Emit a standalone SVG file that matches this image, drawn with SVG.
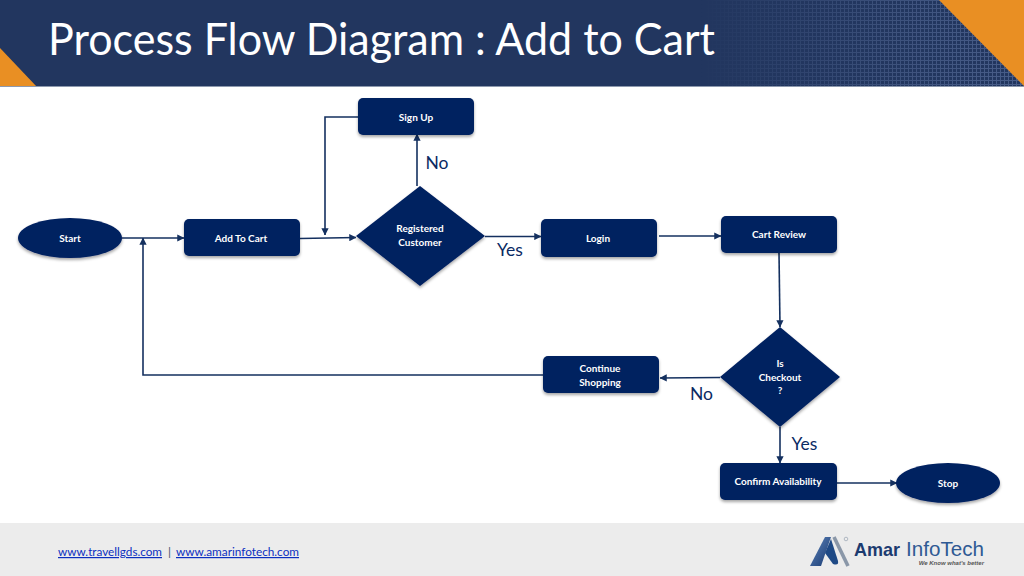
<svg xmlns="http://www.w3.org/2000/svg" width="1024" height="576" viewBox="0 0 1024 576">
<style>
.n{fill:#002060;filter:url(#sh)}
.t{font-family:Lato,"Liberation Sans",sans-serif;font-size:10px;font-weight:700;fill:#fff;text-anchor:middle}
.l{font-family:Lato,"Liberation Sans",sans-serif;font-size:17.500px;fill:#0a2a63}
.c{fill:none;stroke:#14305f;stroke-width:1.6;marker-end:url(#a)}
.f{font-family:Lato,"Liberation Sans",sans-serif;font-size:12px;fill:#0b2fc0;text-decoration:underline}
</style>
<defs>
<marker id="a" viewBox="0 0 8 8" refX="7.5" refY="4" markerWidth="4.5" markerHeight="4.5" orient="auto"><path d="M0 0L8 4L0 8z" fill="#14305f"/></marker>
<filter id="sh" x="-10%" y="-15%" width="120%" height="135%"><feDropShadow dx="0" dy="2" stdDeviation="1.6" flood-color="#000" flood-opacity=".35"/></filter>
<pattern id="g" width="4" height="4" patternUnits="userSpaceOnUse"><path d="M0 .5H4M.5 0V4" stroke="#6f86b4" stroke-width="1" opacity=".5"/></pattern>
<linearGradient id="fade" x1="0" x2="1" y1="0" y2="0"><stop offset="0" stop-color="#fff" stop-opacity="0"/><stop offset=".6" stop-color="#fff" stop-opacity=".7"/><stop offset="1" stop-color="#fff"/></linearGradient>
<mask id="m"><rect x="700" y="0" width="324" height="87" fill="url(#fade)"/></mask>
<linearGradient id="lg" x1="0" x2="1" y1="0" y2="1"><stop offset="0" stop-color="#5f86bd"/><stop offset="1" stop-color="#17386f"/></linearGradient>
</defs>
<rect width="1024" height="576" fill="#fff"/>
<g id="header">
<rect width="1024" height="87" fill="#22365f"/>
<rect x="700" width="324" height="87" fill="url(#g)" mask="url(#m)"/>
<path d="M0 48L37 87H0z" fill="#e98f23"/>
<path d="M939 0H1024V86z" fill="#e98f23"/>
<rect y="86" width="1024" height="1" fill="#8d99ae"/>
<text x="48" y="55" font-family="Lato,'Liberation Sans',sans-serif" font-size="44" fill="#fff" textLength="667" lengthAdjust="spacingAndGlyphs">Process Flow Diagram : Add to Cart</text>
</g>
<g id="footer">
<rect y="523" width="1024" height="53" fill="#ececec"/>
<text class="f" x="58" y="556" textLength="104" lengthAdjust="spacingAndGlyphs">www.travellgds.com</text>
<text x="168" y="556" font-family="Lato,sans-serif" font-size="12" fill="#44546a">|</text>
<text class="f" x="176" y="556" textLength="123" lengthAdjust="spacingAndGlyphs">www.amarinfotech.com</text>
</g>
<g id="logo">
<path d="M810 566L825 537L831 537L821 566z" fill="url(#lg)"/>
<path d="M825 553L831 539L838 561Q839 566 833 564z" fill="#1f4a86"/>
<path d="M834 537L848 566" fill="none" stroke="#8a97a8" stroke-width="3.6"/>
<path d="M839 537L851 561" fill="none" stroke="#eee" stroke-width="1"/>
<circle cx="846" cy="539" r="1.8" fill="none" stroke="#8a97a8" stroke-width=".6"/>
<text x="854" y="556" font-family="'Liberation Sans',sans-serif" font-size="18.500" font-weight="700" fill="#1c3b70" textLength="46" lengthAdjust="spacingAndGlyphs">Amar</text>
<text x="906" y="556" font-family="'Liberation Sans',sans-serif" font-size="21" fill="#2f5a94" textLength="78" lengthAdjust="spacingAndGlyphs">InfoTech</text>
<text x="984" y="565" text-anchor="end" font-family="'Liberation Sans',sans-serif" font-size="6" font-style="italic" font-weight="700" fill="#555">We Know what's better</text>
</g>
<g id="connectors">
<path class="c" d="M122 238H184"/>
<path class="c" d="M300 238.500L356 237.500"/>
<path class="c" d="M417 186V134"/>
<path class="c" d="M358 117H325V235"/>
<path class="c" d="M485 236.500H541"/>
<path class="c" d="M659 236H721"/>
<path class="c" d="M779 253L780 327"/>
<path class="c" d="M720 377.500L660 378"/>
<path class="c" d="M543 375H143V238"/>
<path class="c" d="M780 427V463"/>
<path class="c" d="M837 483H897"/>
</g>
<g id="start"><ellipse class="n" cx="70" cy="238" rx="52" ry="20"/><text class="t" x="70" y="241.500">Start</text></g>
<g id="add-to-cart"><rect class="n" x="184" y="219" width="116" height="37" rx="5"/><text class="t" x="241" y="241.500">Add To Cart</text></g>
<g id="sign-up"><rect class="n" x="358" y="98" width="116" height="37" rx="5"/><text class="t" x="416" y="120.500">Sign Up</text></g>
<g id="registered-customer"><path class="n" d="M356 236L420 186L485 236L420 286z"/><text class="t" x="420" y="232">Registered</text><text class="t" x="420" y="246">Customer</text></g>
<g id="login"><rect class="n" x="541" y="219" width="116" height="38" rx="5"/><text class="t" x="598" y="241.500">Login</text></g>
<g id="cart-review"><rect class="n" x="721" y="216" width="116" height="37" rx="5"/><text class="t" x="779" y="238">Cart Review</text></g>
<g id="is-checkout"><path class="n" d="M720 377L780 327L840 377L780 427z"/><text class="t" x="780" y="367">Is</text><text class="t" x="780" y="381">Checkout</text><text class="t" x="780" y="394">?</text></g>
<g id="continue-shopping"><rect class="n" x="543" y="356" width="116" height="37" rx="5"/><text class="t" x="600" y="371.500">Continue</text><text class="t" x="600" y="385.500">Shopping</text></g>
<g id="confirm-availability"><rect class="n" x="720" y="463" width="117" height="37" rx="5"/><text class="t" x="778" y="485">Confirm Availability</text></g>
<g id="stop"><ellipse class="n" cx="948" cy="483" rx="52" ry="20"/><text class="t" x="948" y="487">Stop</text></g>
<g id="labels">
<text class="l" x="425.500" y="169">No</text>
<text class="l" x="497" y="256">Yes</text>
<text class="l" x="690" y="400">No</text>
<text class="l" x="791.500" y="450">Yes</text>
</g>
</svg>
